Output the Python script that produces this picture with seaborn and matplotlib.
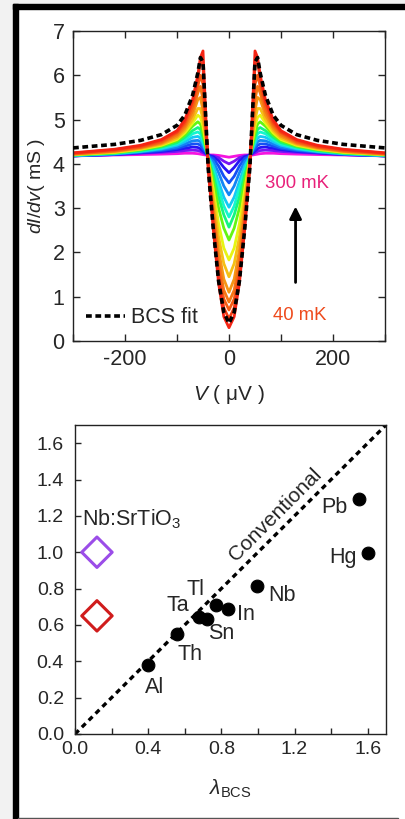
import numpy as np
import pandas as pd
import matplotlib
matplotlib.use("Agg")
import matplotlib.pyplot as plt
import seaborn as sns
from matplotlib.patches import Rectangle

v_half = [0, 10, 20, 30, 40, 45, 50, 55, 60, 70, 85, 100, 130, 170, 220, 300]
temps_mK = [40, 55, 70, 85, 100, 115, 130, 145, 160, 175, 190, 210, 230, 250, 275, 300]
g_curves = [
    [0.30, 0.55, 1.30, 2.50, 3.90, 5.20, 6.55, 6.40, 6.00, 5.45, 5.00, 4.75, 4.55, 4.42, 4.33, 4.25],
    [0.50, 0.75, 1.45, 2.60, 3.95, 5.00, 6.20, 6.30, 5.90, 5.40, 4.95, 4.72, 4.53, 4.40, 4.32, 4.24],
    [0.70, 0.95, 1.60, 2.70, 4.00, 4.90, 5.80, 6.00, 5.75, 5.30, 4.90, 4.70, 4.50, 4.38, 4.30, 4.23],
    [0.88, 1.15, 1.80, 2.85, 4.02, 4.80, 5.45, 5.75, 5.60, 5.20, 4.85, 4.66, 4.48, 4.37, 4.29, 4.22],
    [1.10, 1.40, 2.05, 3.00, 4.05, 4.70, 5.20, 5.50, 5.45, 5.10, 4.80, 4.62, 4.46, 4.36, 4.28, 4.22],
    [1.45, 1.75, 2.35, 3.20, 4.08, 4.60, 5.00, 5.25, 5.25, 5.00, 4.75, 4.58, 4.44, 4.34, 4.27, 4.21],
    [1.83, 2.10, 2.65, 3.40, 4.10, 4.50, 4.85, 5.05, 5.10, 4.92, 4.70, 4.55, 4.42, 4.33, 4.26, 4.21],
    [2.28, 2.55, 3.00, 3.60, 4.12, 4.42, 4.70, 4.90, 4.95, 4.85, 4.65, 4.52, 4.40, 4.32, 4.25, 4.20],
    [2.57, 2.85, 3.25, 3.75, 4.14, 4.38, 4.60, 4.78, 4.82, 4.75, 4.60, 4.48, 4.38, 4.30, 4.24, 4.20],
    [2.80, 3.05, 3.45, 3.85, 4.15, 4.35, 4.52, 4.68, 4.72, 4.68, 4.55, 4.45, 4.36, 4.29, 4.24, 4.19],
    [3.02, 3.25, 3.60, 3.95, 4.16, 4.32, 4.46, 4.58, 4.62, 4.60, 4.50, 4.42, 4.34, 4.28, 4.23, 4.19],
    [3.30, 3.50, 3.80, 4.05, 4.17, 4.30, 4.40, 4.50, 4.53, 4.52, 4.45, 4.38, 4.32, 4.27, 4.22, 4.18],
    [3.57, 3.72, 3.95, 4.12, 4.18, 4.27, 4.34, 4.42, 4.45, 4.45, 4.40, 4.35, 4.30, 4.26, 4.22, 4.18],
    [3.80, 3.92, 4.07, 4.16, 4.19, 4.24, 4.29, 4.34, 4.37, 4.38, 4.35, 4.32, 4.28, 4.25, 4.21, 4.18],
    [4.00, 4.06, 4.14, 4.18, 4.20, 4.22, 4.25, 4.28, 4.30, 4.31, 4.30, 4.28, 4.26, 4.24, 4.21, 4.18],
    [4.15, 4.17, 4.19, 4.20, 4.20, 4.20, 4.21, 4.22, 4.23, 4.24, 4.24, 4.23, 4.22, 4.21, 4.20, 4.18],
]
g_bcs = [0.40, 0.65, 1.35, 2.50, 3.90, 5.10, 6.30, 6.40, 6.05, 5.55, 5.10, 4.87, 4.66, 4.53, 4.44, 4.36]

# --- bottom panel: elements
elements = ["Al", "Th", "Ta", "Sn", "Tl", "In", "Nb", "Pb", "Hg"]
lam_bcs = [0.40, 0.56, 0.68, 0.72, 0.77, 0.835, 0.995, 1.55, 1.60]
lam_y = [0.38, 0.55, 0.645, 0.635, 0.71, 0.685, 0.815, 1.295, 0.995]
label_x = [0.437, 0.63, 0.564, 0.80, 0.66, 0.935, 1.13, 1.42, 1.465]
label_y = [0.255, 0.44, 0.707, 0.553, 0.795, 0.657, 0.764, 1.247, 0.97]
sto_x = [0.12, 0.12]
sto_y = [1.00, 0.65]
sto_colors = ["#9b4de8", "#d01c1c"]

# hue of each spectrum, coldest (red) to warmest (magenta)
hue_steps = [0.015, 0.035, 0.055, 0.075, 0.10, 0.13, 0.18, 0.28, 0.42, 0.48, 0.54, 0.59, 0.63, 0.69, 0.75, 0.86]


def mirror(v, g):
    vv = [-x for x in v[:0:-1]] + list(v)
    gg = list(g[:0:-1]) + list(g)
    return vv, gg


sns.set_theme(style="ticks")
plt.rcParams["font.family"] = ["Liberation Sans", "DejaVu Sans"]
plt.rcParams["mathtext.fontset"] = "custom"
plt.rcParams["mathtext.it"] = "Liberation Sans:italic"
plt.rcParams["mathtext.rm"] = "Liberation Sans"
plt.rcParams["axes.unicode_minus"] = False

fig = plt.figure(figsize=(4.06, 8.19), dpi=100, facecolor="white")
W, H = 406.0, 819.0
# frame around the figure
fig.patches.append(Rectangle((0, 0), 13 / W, 1, transform=fig.transFigure, color="#f2f2f2", zorder=0))
fig.patches.append(Rectangle((0, 1 - 4 / H), 1, 4 / H, transform=fig.transFigure, color="#f2f2f2", zorder=0))
fig.patches.append(Rectangle((13 / W, 0), 5 / W, 1 - 4 / H, transform=fig.transFigure, color="black", zorder=1))
fig.patches.append(Rectangle((13 / W, 1 - 9 / H), 1, 5 / H, transform=fig.transFigure, color="black", zorder=1))
fig.patches.append(Rectangle((18 / W, 0), 380 / W, 1.5 / H, transform=fig.transFigure, color="#555555", zorder=1))

# ---------------- top panel
ax1 = fig.add_axes([73 / W, 1 - 341 / H, 312 / W, 310 / H])
rows = []
for t, g in zip(temps_mK, g_curves):
    vv, gg = mirror(v_half, g)
    for a, b in zip(vv, gg):
        rows.append({"V": a, "G": b, "T": t})
df = pd.DataFrame(rows)
cmap = plt.get_cmap("hsv")
palette = {t: tuple(0.88 * np.array(cmap(h)[:3]) + 0.08) for t, h in zip(temps_mK, hue_steps)}
sns.lineplot(data=df, x="V", y="G", hue="T", hue_order=temps_mK[::-1], palette=palette,
             lw=2.0, sort=False, legend=False, ax=ax1, estimator=None)
vb, gb = mirror(v_half, g_bcs)
bcs_line, = ax1.plot(vb, gb, color="black", lw=2.6, dashes=(1.6, 1.0), label="BCS fit", zorder=5)

ax1.set_xlim(-300, 300)
ax1.set_ylim(0, 7)
ax1.set_xticks([-200, 0, 200])
ax1.set_xticks([-300, -100, 100, 300], minor=True)
ax1.set_yticks(range(0, 8))
ax1.tick_params(which="both", direction="in", top=True, right=True, labelsize=15.5, length=5, width=1, pad=6)
ax1.set_xlabel(r"$\it{V}$ ( μV )", fontsize=15, labelpad=9)
ax1.set_ylabel(r"$\it{dI/dv}$( mS )", fontsize=14, labelpad=4)
for s in ax1.spines.values():
    s.set_linewidth(1.0)
    s.set_color("#222222")
ax1.text(131, 3.55, "300 mK", color="#e8207a", fontsize=13.3, ha="center", va="center")
ax1.text(136, 0.58, "40 mK", color="#ee4a1c", fontsize=13.3, ha="center", va="center")
ax1.annotate("", xy=(128, 3.1), xytext=(128, 1.26),
             arrowprops=dict(arrowstyle="-|>", lw=2, color="black", mutation_scale=18))
ax1.legend(handles=[bcs_line], loc="lower left", frameon=False, fontsize=15.5,
           handlelength=1.8, handletextpad=0.3, borderaxespad=0.2)

# ---------------- bottom panel
ax2 = fig.add_axes([75 / W, 1 - 734 / H, 311 / W, 309 / H])
ax2.plot([0, 1.7], [0, 1.7], color="black", lw=2.4, dashes=(1.6, 1.3))
sns.scatterplot(x=lam_bcs, y=lam_y, color="black", s=85, edgecolor="black", ax=ax2, zorder=4)
for name, x, y in zip(elements, label_x, label_y):
    ax2.text(x, y, name, fontsize=15.5, ha="center", va="center")
sns.scatterplot(x=sto_x, y=sto_y, hue=sto_colors, palette=dict(zip(sto_colors, sto_colors)),
                marker="D", s=240, ax=ax2, legend=False, zorder=4)
for c in ax2.collections[-1:]:
    c.set_facecolor("none")
    c.set_edgecolors(sto_colors)
    c.set_linewidth(2.2)
ax2.text(0.04, 1.18, r"Nb:SrTiO$_3$", fontsize=15.5, ha="left", va="center")
ax2.text(1.095, 1.205, "Conventional", fontsize=15, rotation=45, ha="center", va="center",
         rotation_mode="anchor")
ax2.set_xlim(0, 1.7)
ax2.set_ylim(0, 1.7)
ax2.set_xticks([0, 0.4, 0.8, 1.2, 1.6])
ax2.set_xticklabels(["0.0", "0.4", "0.8", "1.2", "1.6"])
ax2.set_xticks([0.2, 0.6, 1.0, 1.4], minor=True)
ax2.set_yticks(np.arange(0, 1.61, 0.2))
ax2.set_yticklabels(["0.0", "0.2", "0.4", "0.6", "0.8", "1.0", "1.2", "1.4", "1.6"])
ax2.tick_params(which="both", direction="in", labelsize=14, length=4, width=1)
ax2.tick_params(axis="x", pad=5)
ax2.tick_params(axis="y", pad=8)
ax2.set_xlabel(r"$\lambda_{\rm BCS}$", fontsize=15, labelpad=14)
for s in ax2.spines.values():
    s.set_linewidth(1.0)
    s.set_color("#222222")

fig.savefig("out.png", dpi=100, facecolor="white")
